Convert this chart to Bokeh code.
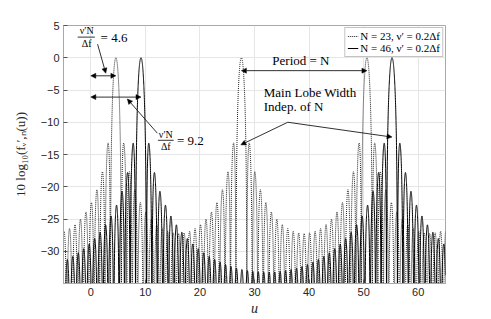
import numpy as np
from bokeh.plotting import figure
from bokeh.models import Range1d, FixedTicker, Label, Arrow, NormalHead
from bokeh.embed import file_html
from bokeh.resources import INLINE

N_values = [23, 46]                 # kernel lengths
nu_prime = [0.2, 0.2]               # nu' in units of Delta f
series_labels = ["N = 23, ν′ = 0.2Δf", "N = 46, ν′ = 0.2Δf"]
series_dash = ["1 1", "solid"]
x_ticks = [0, 10, 20, 30, 40, 50, 60]
y_ticks = [-30, -25, -20, -15, -10, -5, 0, 5]
u = np.arange(-5.0, 65.0001, 0.01)


def kernel_db(N, nu):
    x = u - nu * N
    s = np.sin(np.pi * x / N)
    num = np.sin(np.pi * x)
    safe = np.where(np.abs(s) < 1e-12, 1.0, s)
    d = np.where(np.abs(s) < 1e-12, 1.0, num / (N * safe))
    return 20 * np.log10(np.maximum(np.abs(d), 1e-6))


SERIF = "Liberation Serif"
SANS = "Liberation Sans"
GRID = "#e6e6e6"
FRAME = "#a8a8a8"

p = figure(width=491, height=319, x_range=Range1d(-5, 65), y_range=Range1d(-35, 5),
           output_backend="svg", toolbar_location=None,
           min_border_left=63, min_border_right=46, min_border_top=25, min_border_bottom=36)
p.background_fill_color = "white"
p.border_fill_color = "white"
p.outline_line_color = FRAME
p.outline_line_width = 1

p.xaxis.ticker = FixedTicker(ticks=x_ticks)
p.yaxis.ticker = FixedTicker(ticks=y_ticks)
for ax in [p.xaxis[0], p.yaxis[0]]:
    ax.axis_line_color = FRAME
    ax.major_tick_line_color = "#555555"
    ax.major_tick_out = 0
    ax.major_tick_in = 4
    ax.minor_tick_line_color = None
    ax.major_label_text_font = SANS
    ax.major_label_text_font_size = "11px"
    ax.major_label_text_color = "#262626"
p.xaxis.major_label_standoff = 4
p.yaxis.major_label_standoff = 4
p.yaxis.axis_label = "10 log₁₀(fᵥ′,ₙ(u))"
p.yaxis.axis_label_text_font = SERIF
p.yaxis.axis_label_text_font_style = "normal"
p.yaxis.axis_label_text_font_size = "13px"
p.yaxis.axis_label_text_color = "#262626"
p.yaxis.axis_label_standoff = 10
p.xaxis.axis_label = "u"
p.xaxis.axis_label_text_font = SERIF
p.xaxis.axis_label_text_font_style = "italic"
p.xaxis.axis_label_text_font_size = "14px"
p.xaxis.axis_label_text_color = "#262626"
p.xaxis.axis_label_standoff = 2

p.xgrid.grid_line_color = GRID
p.ygrid.grid_line_color = GRID
p.xgrid.ticker = FixedTicker(ticks=x_ticks)
p.ygrid.ticker = FixedTicker(ticks=y_ticks)

for N, nu, lab, dash in zip(N_values, nu_prime, series_labels, series_dash):
    y = kernel_db(N, nu)
    p.line(u, y, line_color="black", line_width=1.0 if dash == "solid" else 0.9,
           line_dash=dash, legend_label=lab)

lg = p.legend[0]
lg.location = "top_right"
lg.margin = 2
lg.padding = 2
lg.spacing = 0
lg.label_height = 10
lg.glyph_height = 10
lg.glyph_width = 11
lg.label_standoff = 2
lg.label_text_font = SERIF
lg.label_text_font_size = "11px"
lg.label_text_color = "black"
lg.border_line_color = "#888888"
lg.border_line_width = 0.8
lg.background_fill_alpha = 1.0

# ---- annotations ----
def arrow(x0, y0, x1, y1, double=False):
    head = lambda: NormalHead(size=5, fill_color="black", line_color="black", line_width=0.5)
    p.add_layout(Arrow(x_start=x0, y_start=y0, x_end=x1, y_end=y1,
                       start=head() if double else None, end=head(),
                       line_color="#1a1a1a", line_width=0.9))

def txt(x, y, s, size="13px", align="left", style="normal"):
    p.add_layout(Label(x=x, y=y, text=s, text_font=SERIF, text_font_size=size,
                       text_align=align, text_baseline="middle", text_color="black",
                       text_font_style=style))

def frac(xc, y_bar, x0, x1, rhs, x_rhs):
    txt(xc, y_bar + 0.95, "ν′N", size="10px", align="center")
    txt(xc, y_bar - 0.95, "Δf", size="10px", align="center")
    p.segment(x0=[x0], y0=[y_bar], x1=[x1], y1=[y_bar], line_color="black", line_width=0.8)
    txt(x_rhs, y_bar, rhs, size="13px")

frac(-0.75, 3.2, -2.4, 0.75, "= 4.6", 1.8)
frac(13.75, -12.8, 12.3, 15.2, "= 9.2", 15.8)

arrow(0, -2.8, 4.6, -2.8, double=True)
arrow(0, -6.1, 9.2, -6.1, double=True)
arrow(1.25, 2.1, 2.75, -2.4)
arrow(12.2, -11.7, 6.7, -6.4)
arrow(27.6, -2.0, 50.6, -2.0, double=True)
arrow(36.1, -10.0, 27.5, -13.5)
arrow(36.1, -10.0, 55.2, -12.3)

txt(38.5, -0.5, "Period = N", align="center")
txt(31.7, -5.4, "Main Lobe Width")
txt(31.7, -7.6, "Indep. of N")

open("out.html", "w").write(file_html(p, INLINE))
